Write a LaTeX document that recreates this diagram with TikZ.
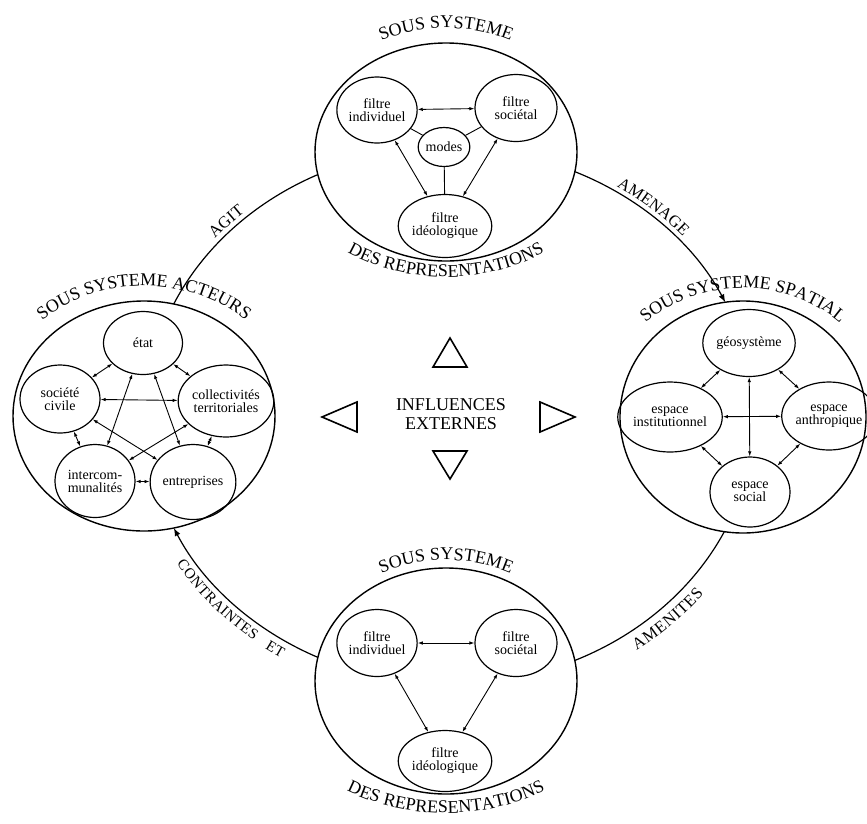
\documentclass[tikz,border=0pt]{standalone}
\usepackage{fontspec}
\setmainfont{Liberation Serif}
\usetikzlibrary{shapes.geometric, arrows.meta, calc, decorations.text}
\newcommand\ttlfont{\fontsize{18}{20}\selectfont}
\newcommand\ringfont{\fontsize{16.5}{18}\selectfont}
\newcommand\ctrfont{\fontsize{15}{17}\selectfont}
\begin{document}
\begin{tikzpicture}[x=1pt, y=-1pt,
  outer/.style={draw, line width=1.4pt, fill=white, ellipse, inner sep=0pt},
  inner/.style={draw, line width=1.2pt, ellipse, inner sep=0pt, align=center, font=\fontsize{14}{13}\selectfont},
  link/.style={line width=0.9pt, {Latex[length=5pt,width=3.5pt]}-{Latex[length=5pt,width=3.5pt]}},
  plainlink/.style={line width=0.9pt},
  ringline/.style={line width=1.2pt},
  ringarrow/.style={ringline, -{Latex[length=8pt,width=6pt]}},
  tri/.style={line width=1.6pt, line join=miter},
]
\useasboundingbox (0,0) rectangle (867,823);
\coordinate (R) at (450,416);
% ring arcs hidden under the sub-systems
\draw[ringline] ($(R)+(-304,0)$) arc[start angle=180, end angle=270, x radius=304, y radius=268];
\draw[ringline] ($(R)+(304,0)$) arc[start angle=0, end angle=90, x radius=304, y radius=268];

% sub-systems
\node[outer, minimum width=262pt, minimum height=218pt] (T) at (446,152) {};
\node[outer, minimum width=262pt, minimum height=230pt] (A) at (144,416) {};
\node[outer, minimum width=246pt, minimum height=232pt] (S) at (743,417) {};
\node[outer, minimum width=262pt, minimum height=226pt] (B) at (446,681) {};

% arrowed ring arcs
\draw[ringarrow] ($(R)+({304*cos(294.3)},{268*sin(294.3)})$) arc[start angle=294.3, end angle=334.9, x radius=304, y radius=268];
\draw[ringarrow] ($(R)+({304*cos(115.75)},{268*sin(115.75)})$) arc[start angle=115.75, end angle=155.3, x radius=304, y radius=268];

% top subsystem
\node[inner, minimum width=80pt, minimum height=66pt] (Ti) at (377,110) {filtre\\individuel};
\node[inner, minimum width=82pt, minimum height=67pt] (Ts) at (516,108) {filtre\\sociétal};
\node[inner, minimum width=48pt, minimum height=39pt] (Tm) at (444,147) {modes};
\node[inner, minimum width=77pt, minimum height=63pt] (Td) at (445,226) {filtre\\idéologique};
\draw[link] (Ti) -- (Ts);
\draw[link] (Ti) -- (Td);
\draw[link] (Ts) -- (Td);
\draw[plainlink] (Tm) -- (Ti);
\draw[plainlink] (Tm) -- (Ts);
\draw[plainlink] (Tm) -- (Td);

% bottom subsystem
\node[inner, minimum width=80pt, minimum height=67pt] (Bi) at (377,643) {filtre\\individuel};
\node[inner, minimum width=82pt, minimum height=67pt] (Bs) at (516,643) {filtre\\sociétal};
\node[inner, minimum width=77pt, minimum height=61pt] (Bd) at (445,761) {filtre\\idéologique};
\draw[link] (Bi) -- (Bs);
\draw[link] (Bi) -- (Bd);
\draw[link] (Bs) -- (Bd);

% actors subsystem
\node[inner, minimum width=79pt, minimum height=63pt] (Ae) at (143,343) {état};
\node[inner, minimum width=80pt, minimum height=68pt] (Asc) at (60,399) {société\\civile};
\node[inner, minimum width=76pt, minimum height=72pt] (Act) at (226,401) {collectivités\\territoriales};
\node[inner, minimum width=80pt, minimum height=73pt] (Aic) at (95,481) {intercom-\\munalités};
\node[inner, minimum width=80pt, minimum height=75pt] (Aen) at (193,482) {entreprises};
\draw[link] (Ae) -- (Asc);
\draw[link] (Ae) -- (Act);
\draw[link] (Ae) -- (Aic);
\draw[link] (Ae) -- (Aen);
\draw[link] (Asc) -- (Act);
\draw[link] (Asc) -- (Aen);
\draw[link] (Asc) -- (Aic);
\draw[link] (Act) -- (Aic);
\draw[link] (Act) -- (Aen);
\draw[link] (Aic) -- (Aen);

% spatial subsystem
\node[inner, minimum width=78pt, minimum height=67pt] (Sg) at (749,343) {géosystème};
\node[inner, minimum width=76pt, minimum height=70pt] (Si) at (670,417) {espace\\institutionnel};
\node[inner, minimum width=74pt, minimum height=68pt] (Sa) at (829,416) {espace\\anthropique};
\node[inner, minimum width=80pt, minimum height=70pt] (Ss) at (750,492) {espace\\social};
\draw[link] (Sg) -- (Si);
\draw[link] (Sg) -- (Sa);
\draw[link] (Si) -- (Sa);
\draw[link] (Sg) -- (Ss);
\draw[link] (Si) -- (Ss);
\draw[link] (Sa) -- (Ss);

% titles
\path[decorate, decoration={text along path, text align=center, text={|\ttlfont|SOUS SYSTEME}}]
  ($(T.center)+({146*cos(225)},{124*sin(225)})$) arc[start angle=225, end angle=315, x radius=146, y radius=124];
\path[decorate, decoration={text along path, text align=center, text={|\ttlfont|DES REPRESENTATIONS}}]
  ($(T.center)+({165*cos(165)},{125*sin(165)})$) arc[start angle=165, end angle=15, x radius=165, y radius=125];
\path[decorate, decoration={text along path, text align=center, text={|\ttlfont|SOUS SYSTEME}}]
  ($(B.center)+({142*cos(225)},{121*sin(225)})$) arc[start angle=225, end angle=315, x radius=142, y radius=121];
\path[decorate, decoration={text along path, text align=center, text={|\ttlfont|DES REPRESENTATIONS}}]
  ($(B.center)+({178*cos(165)},{132*sin(165)})$) arc[start angle=165, end angle=15, x radius=178, y radius=132];
\path[decorate, decoration={text along path, text align=center, text={|\ttlfont|SOUS SYSTEME ACTEURS}}]
  ($(A.center)+({150*cos(200)},{130*sin(200)})$) arc[start angle=200, end angle=340, x radius=150, y radius=130];
\path[decorate, decoration={text along path, text align=center, text={|\ttlfont|SOUS SYSTEME SPATIAL}}]
  ($(S.center)+({142*cos(200)},{129*sin(200)})$) arc[start angle=200, end angle=340, x radius=142, y radius=129];

% ring labels
\path[decorate, decoration={text along path, text align=center, raise=5pt, text={|\ringfont|AGIT}}]
  ($(R)+({304*cos(205)},{268*sin(205)})$) arc[start angle=205, end angle=243, x radius=304, y radius=268];
\path[decorate, decoration={text along path, text align=center, raise=5pt, text={|\ringfont|AMENAGE}}]
  ($(R)+({304*cos(296)},{268*sin(296)})$) arc[start angle=296, end angle=326, x radius=304, y radius=268];
\path[decorate, decoration={text along path, text align=center, raise=-19pt, text={|\ringfont|AMENITES}}]
  ($(R)+({304*cos(64)},{268*sin(64)})$) arc[start angle=64, end angle=28, x radius=304, y radius=268];
\path[decorate, decoration={text along path, text align=center, raise=-16pt, text={|\ctrfont|CONTRAINTES}}]
  ($(R)+({304*cos(158.7)},{268*sin(158.7)})$) arc[start angle=158.7, end angle=118.7, x radius=304, y radius=268];
\path[decorate, decoration={text along path, text align=center, raise=-17pt, text={|\ctrfont|ET}}]
  ($(R)+({304*cos(128.7)},{268*sin(128.7)})$) arc[start angle=128.7, end angle=118.7, x radius=304, y radius=268];

% external influences
\node[font=\fontsize{18}{19}\selectfont, align=center] (infl) at (451,414) {INFLUENCES\\EXTERNES};
\draw[tri] (433,367) -- (450,338) -- (467,367) -- cycle;
\draw[tri] (433,451) -- (467,451) -- (450,479) -- cycle;
\draw[tri] (357,402) -- (357,432) -- (322,417) -- cycle;
\draw[tri] (540,402) -- (540,432) -- (575,417) -- cycle;
\end{tikzpicture}
\end{document}
